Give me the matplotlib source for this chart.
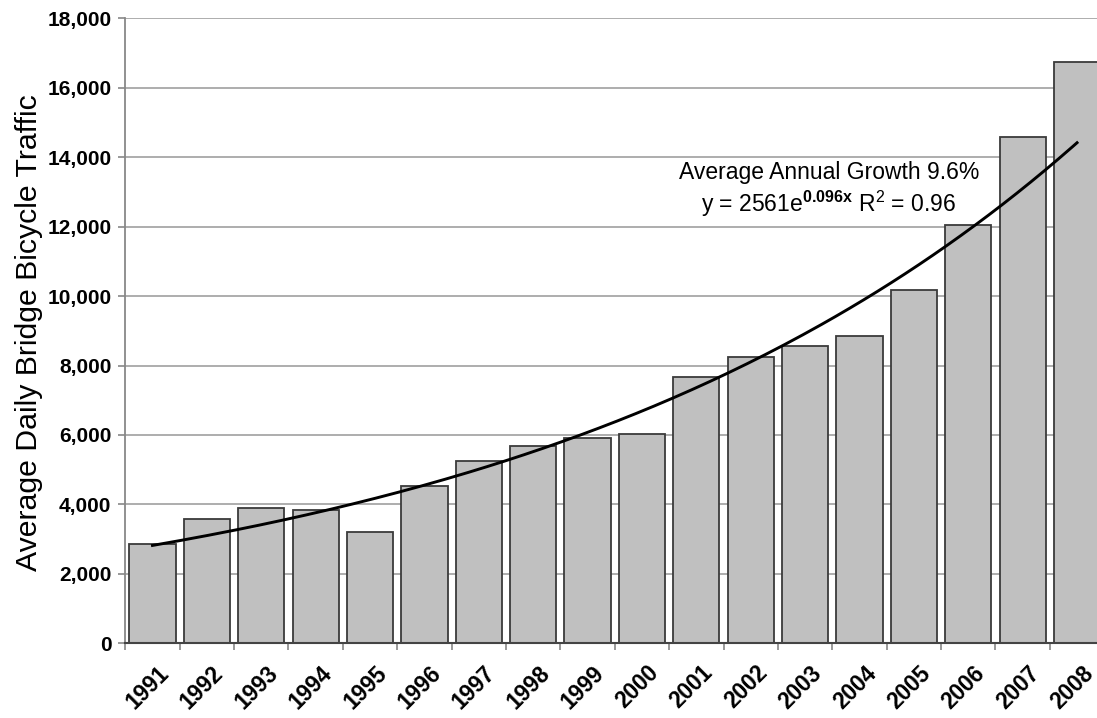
import numpy as np
import matplotlib
matplotlib.use("Agg")
import matplotlib.pyplot as plt
import matplotlib.transforms as mtransforms
from matplotlib.ticker import FuncFormatter, MultipleLocator, FixedLocator

plt.rcParams['font.family'] = ['Liberation Sans', 'DejaVu Sans']
plt.rcParams['mathtext.fontset'] = 'custom'
plt.rcParams['mathtext.rm'] = 'Liberation Sans'
plt.rcParams['mathtext.it'] = 'Liberation Sans'
plt.rcParams['mathtext.bf'] = 'Liberation Sans:bold'

# Average daily bicycle counts on the bridges, by year
years = ['1991', '1992', '1993', '1994', '1995', '1996', '1997', '1998', '1999',
         '2000', '2001', '2002', '2003', '2004', '2005', '2006', '2007', '2008']
traffic = [2860, 3570, 3890, 3840, 3210, 4530, 5240, 5690, 5920,
           6020, 7670, 8250, 8560, 8850, 10180, 12050, 14590, 16730]

# Exponential trend: y = a * exp(b * x), x = 1 for the first year
fit_a = 2561
fit_b = 0.096

fig = plt.figure(figsize=(10.97, 7.18), dpi=100)
ax = fig.add_axes([0.1142, 0.104, 0.8924, 0.8705])

pos = np.arange(len(years))
ax.bar(pos, traffic, width=0.85, color='#c0c0c0', edgecolor='#3a3a3a',
       linewidth=1.3, zorder=2)

xs = np.linspace(0, len(years) - 1, 200)
ax.plot(xs, fit_a * np.exp(fit_b * (xs + 1)), color='black', lw=2.1, zorder=3)

ax.set_xlim(-0.5, len(years) - 0.5)
ax.set_ylim(0, 18000)
ax.yaxis.set_major_locator(MultipleLocator(2000))
ax.yaxis.set_major_formatter(FuncFormatter(lambda v, p: f'{int(v):,}'))
ax.grid(axis='y', color='#a0a0a0', lw=1.2, zorder=0)
ax.set_axisbelow(True)

ax.set_xticks(pos)
ax.set_xticklabels(years, rotation=45, ha='right', va='top',
                   rotation_mode='anchor', fontsize=16.3, fontweight='bold')
ax.tick_params(axis='x', which='major', length=0, pad=13)
shift = mtransforms.ScaledTranslation(5 / 100, 0, fig.dpi_scale_trans)
for t in ax.get_xticklabels():
    t.set_transform(t.get_transform() + shift)
ax.xaxis.set_minor_locator(FixedLocator(np.arange(-0.5, len(years), 1.0)))
ax.tick_params(axis='x', which='minor', length=5, width=1.2, color='#888888',
               direction='out')
ax.tick_params(axis='y', length=5, width=1.2, color='#888888', pad=5,
               labelsize=15)
for t in ax.get_yticklabels():
    t.set_fontweight('bold')

for s in ['top', 'right']:
    ax.spines[s].set_visible(False)
ax.spines['left'].set_color('#888888')
ax.spines['left'].set_linewidth(1.3)
ax.spines['bottom'].set_color('#444444')
ax.spines['bottom'].set_linewidth(1.5)

fig.text(29 / 1097, 1 - 333 / 718, 'Average Daily Bridge Bicycle Traffic',
         rotation=90, ha='center', va='center', fontsize=21.8)

ax.text(12.44, 13372, 'Average Annual Growth 9.6%', ha='center',
        va='baseline', fontsize=16.5, zorder=4)
ax.text(12.44, 12430, r'y = 2561e$^{\mathbf{0.096x}}$ R$^{2}$ = 0.96',
        ha='center', va='baseline', fontsize=16.5, zorder=4)

fig.savefig('out.png', dpi=100, facecolor='white')
